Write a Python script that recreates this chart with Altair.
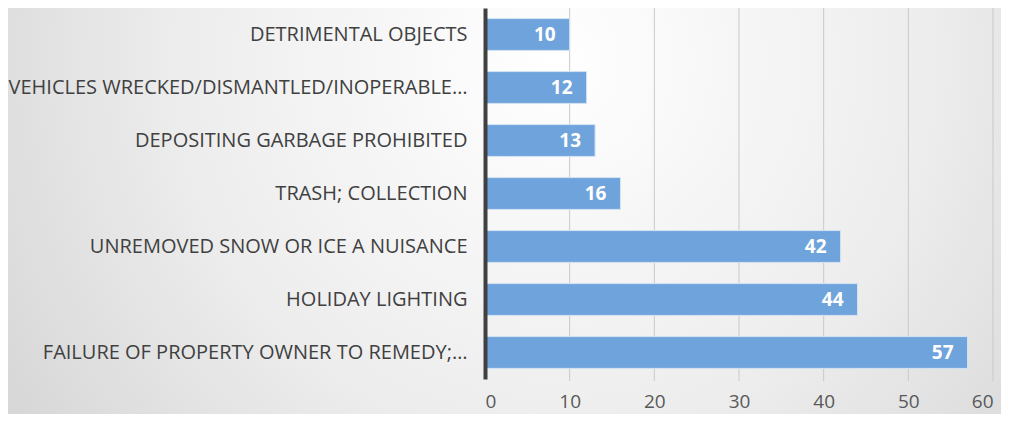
import altair as alt
import pandas as pd

categories = [
    "DETRIMENTAL OBJECTS",
    "VEHICLES WRECKED/DISMANTLED/INOPERABLE…",
    "DEPOSITING GARBAGE PROHIBITED",
    "TRASH; COLLECTION",
    "UNREMOVED SNOW OR ICE A NUISANCE",
    "HOLIDAY LIGHTING",
    "FAILURE OF PROPERTY OWNER TO REMEDY;…",
]
counts = [10, 12, 13, 16, 42, 44, 57]
grid_ticks = [10, 20, 30, 40, 50, 60]

df = pd.DataFrame({"cat": categories, "n": counts})
gdf = pd.DataFrame({"t": grid_ticks})

W, H = 508, 371
PADL, PADT, PADR, PADB = 477, 0, 8, 35

xscale = alt.Scale(domain=[0, 60], nice=False)

bg = alt.Chart(pd.DataFrame({"a": [0]})).mark_rect(
    color={
        "gradient": "radial",
        "x1": 0.55, "y1": 0.35, "r1": 0.0,
        "x2": 0.55, "y2": 0.35, "r2": 0.75,
        "stops": [
            {"offset": 0, "color": "#ffffff"},
            {"offset": 0.5, "color": "#ededed"},
            {"offset": 1, "color": "#cfcfcf"},
        ],
    },
    clip=False,
).encode(
    x=alt.value(-PADL), x2=alt.value(W + PADR),
    y=alt.value(-PADT), y2=alt.value(H + PADB),
)

grid = alt.Chart(gdf).mark_rule(color="#c9c9c9", strokeWidth=1).encode(
    x=alt.X("t:Q", scale=xscale),
    y=alt.value(0), y2=alt.value(H + 2),
)

bars = alt.Chart(df).mark_bar(
    color="#6fa3db", stroke="#d6e4f3", strokeWidth=1, opacity=1
).encode(
    y=alt.Y("cat:N", sort=categories, scale=alt.Scale(paddingInner=0.4, paddingOuter=0.2),
            axis=alt.Axis(title=None, labelFont="Open Sans", labelFontSize=20,
                          labelColor="#404040", labelPadding=18, ticks=False,
                          domainColor="#404040", domainWidth=4, labelLimit=480,
                          zindex=1)),
    x=alt.X("n:Q", scale=xscale,
            axis=alt.Axis(title=None, values=[0, 10, 20, 30, 40, 50, 60], grid=False,
                          domain=False, ticks=False, labelFont="Open Sans",
                          labelFontSize=19, labelColor="#595959", labelPadding=13,
                          zindex=1)),
)

labels = alt.Chart(df).mark_text(
    align="right", baseline="middle", dx=-14, color="white",
    font="Open Sans", fontSize=19, fontWeight="bold",
).encode(
    y=alt.Y("cat:N", sort=categories),
    x=alt.X("n:Q", scale=xscale),
    text="n:Q",
)

chart = alt.layer(bg, grid, bars, labels).properties(
    width=W, height=H,
    autosize=alt.AutoSizeParams(type="none"),
    padding={"left": PADL, "top": PADT, "right": PADR, "bottom": PADB},
).configure_view(stroke=None)

chart.save("out.html", embed_options={"renderer": "svg", "actions": False})
